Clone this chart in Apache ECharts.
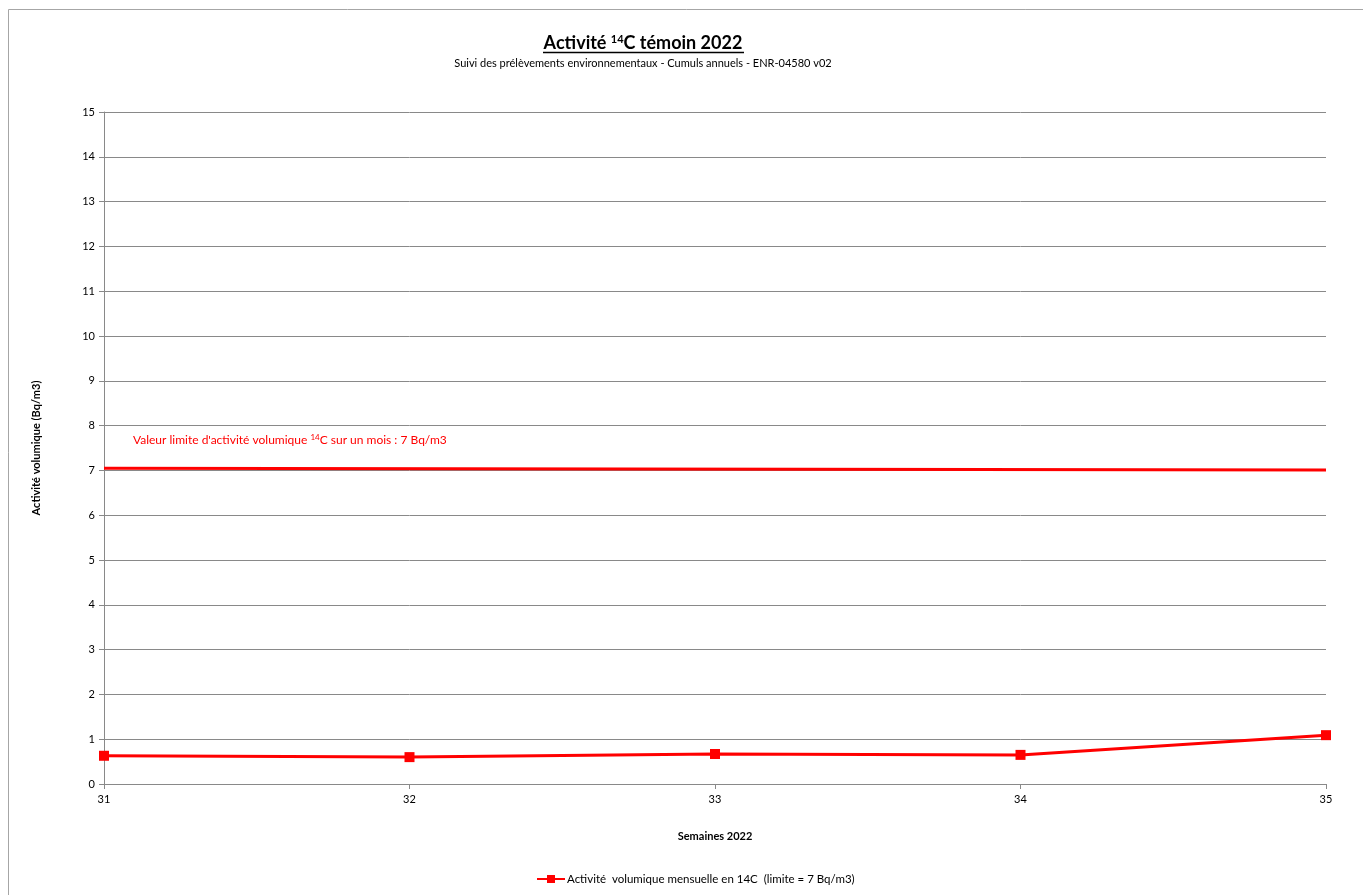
<!DOCTYPE html>
<html><head><meta charset="utf-8">
<script src="https://cdn.jsdelivr.net/npm/echarts@6/dist/echarts.min.js"></script>
<style>html,body{margin:0;padding:0;background:#fff}#c{width:1363px;height:895px}</style>
</head><body><div id="c"></div>
<script>
const weeks = [31, 32, 33, 34, 35];
const activity = [0.63, 0.60, 0.67, 0.65, 1.09];
const limitStart = 7.05, limitEnd = 7.01;
const yTicks = [0,1,2,3,4,5,6,7,8,9,10,11,12,13,14,15];
const seriesName = 'Activité  volumique mensuelle en 14C  (limite = 7 Bq/m3)';
const FONT = 'Lato, "Liberation Sans", sans-serif';

const chart = echarts.init(document.getElementById('c'), null, {renderer:'canvas'});
chart.setOption({
  animation:false,
  backgroundColor:'#fff',
  textStyle:{fontFamily:FONT},
  grid:{left:104,right:37,top:112,bottom:111,containLabel:false},
  legend:{bottom:5,left:531,itemWidth:28,itemHeight:10,itemGap:2,
    textStyle:{fontSize:11.5,color:'#000',fontFamily:FONT,padding:[0,0,0,-3]},
    data:[{name:seriesName}]},
  xAxis:{type:'value',min:weeks[0],max:weeks[weeks.length-1],interval:1,
    name:'Semaines 2022',nameLocation:'middle',nameGap:47,
    nameTextStyle:{fontSize:11,fontWeight:'bold',color:'#000'},
    axisLine:{show:true,lineStyle:{color:'#898989'}},
    axisTick:{show:true,length:5,lineStyle:{color:'#898989'}},
    axisLabel:{fontSize:11,color:'#000',margin:10},
    splitLine:{show:false}},
  yAxis:{type:'value',min:yTicks[0],max:yTicks[yTicks.length-1],interval:1,
    name:'Activité volumique (Bq/m3)',nameLocation:'middle',nameGap:62,nameRotate:90,
    nameTextStyle:{fontSize:11,fontWeight:'bold',color:'#000'},
    axisLine:{show:true,lineStyle:{color:'#898989'}},
    axisTick:{show:true,length:5,lineStyle:{color:'#898989'}},
    axisLabel:{fontSize:11,color:'#000',margin:9},
    splitLine:{show:true,lineStyle:{color:'#898989',width:1}}},
  series:[{
    name:seriesName,type:'line',
    data:weeks.map((w,i)=>[w,activity[i]]),
    symbol:'rect',symbolSize:10,
    lineStyle:{color:'#ff0000',width:3},
    itemStyle:{color:'#ff0000'},
    markLine:{silent:true,symbol:'none',
      lineStyle:{color:'#ff0000',width:3,type:'solid'},
      label:{show:false},
      data:[[{coord:[weeks[0],limitStart]},{coord:[weeks[weeks.length-1],limitEnd]}]]}
  }],
  graphic:[
    {type:'rect',shape:{x:8.5,y:9.5,width:1400,height:900},style:{fill:'none',stroke:'#a6a6a6',lineWidth:1},silent:true,z:-1},
    {type:'text',x:643,y:43,style:{
      text:'{a|Activité }{s|14}{a|C témoin 2022}',
      align:'center',verticalAlign:'middle',
      rich:{a:{fontSize:18,fontWeight:'bold',fill:'#000',fontFamily:FONT},
            s:{fontSize:11,fontWeight:'bold',fill:'#000',fontFamily:FONT,padding:[0,0,8,0]}}}},
    {type:'line',shape:{x1:543,y1:52.5,x2:744,y2:52.5},style:{stroke:'#000',lineWidth:1.5}},
    {type:'text',x:643,y:63,style:{
      text:'Suivi des prélèvements environnementaux - Cumuls annuels - ENR-04580 v02',
      align:'center',verticalAlign:'middle',fontSize:11,fill:'#000',fontFamily:FONT}},
    {type:'text',x:133,y:440,style:{
      text:"{a|Valeur limite d'activité volumique }{s|14}{a|C sur un mois : 7 Bq/m3}",
      verticalAlign:'middle',
      rich:{a:{fontSize:12,fill:'#ff0000',fontFamily:FONT},
            s:{fontSize:8,fill:'#ff0000',fontFamily:FONT,padding:[0,0,6,0]}}}}
  ]
});
</script></body></html>
